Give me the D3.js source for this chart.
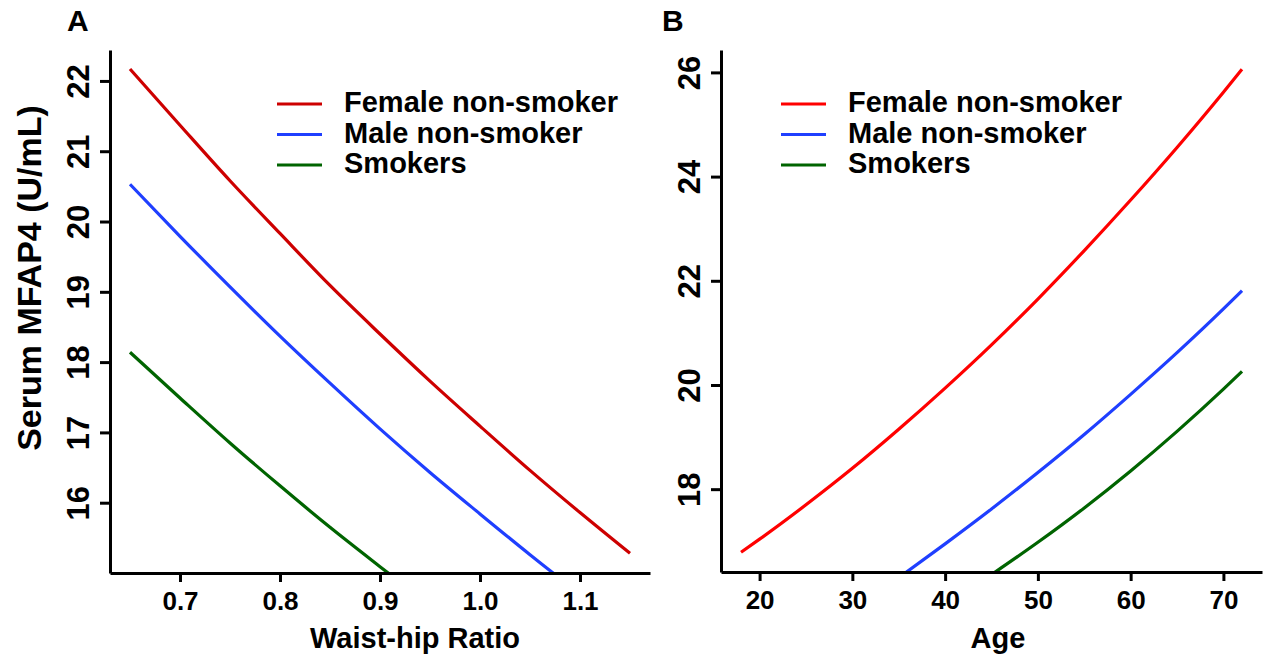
<!DOCTYPE html>
<html>
<head>
<meta charset="utf-8">
<script src="https://cdn.jsdelivr.net/npm/d3@7"></script>
<style>
  body { margin: 0; background: #fff; }
  svg { display: block; font-family: "Liberation Sans", Arial, Helvetica, sans-serif; font-weight: bold; }
</style>
</head>
<body>
<svg id="chart" width="1268" height="659"></svg>
<script>
// Panel A: waist-hip ratio
const whr = [0.65, 0.70, 0.75, 0.80, 0.85, 0.90, 0.95, 1.00, 1.05, 1.10, 1.15];
const femaleA = [22.17, 21.37, 20.58, 19.83, 19.09, 18.40, 17.73, 17.09, 16.46, 15.86, 15.28];
const maleA = [20.53, 19.79, 19.07, 18.37, 17.70, 17.05, 16.43, 15.84, 15.26, 14.70, null];
const smokersA = [18.14, 17.49, 16.85, 16.24, 15.65, 15.09, 14.54, null, null, null, null];

// Panel B: age
const age = [18, 20, 25, 30, 35, 40, 45, 50, 55, 60, 65, 70, 72];
const femaleB = [16.79, 17.04, 17.70, 18.40, 19.15, 19.94, 20.77, 21.65, 22.58, 23.55, 24.56, 25.62, 26.06];
const maleB = [null, null, null, null, 16.30, 16.95, 17.62, 18.32, 19.05, 19.82, 20.62, 21.46, 21.81];
const smokersB = [null, null, null, null, null, null, 16.36, 16.98, 17.64, 18.35, 19.11, 19.92, 20.26];

const seriesNames = ["Female non-smoker", "Male non-smoker", "Smokers"];
const xTicksA = [0.7, 0.8, 0.9, 1.0, 1.1];
const yTicksA = [16, 17, 18, 19, 20, 21, 22];
const xTicksB = [20, 30, 40, 50, 60, 70];
const yTicksB = [18, 20, 22, 24, 26];

const svg = d3.select("#chart");
svg.append("rect").attr("width", 1268).attr("height", 659).attr("fill", "#fff");

function drawPanel(cfg) {
  const x = d3.scaleLinear().domain(cfg.xDomain).range(cfg.xRange);
  const y = d3.scaleLinear().domain(cfg.yDomain).range(cfg.yRange);
  const g = svg.append("g");

  g.append("clipPath").attr("id", cfg.id + "-clip")
    .append("rect")
    .attr("x", cfg.xRange[0]).attr("y", cfg.yRange[1])
    .attr("width", cfg.xRange[1] - cfg.xRange[0])
    .attr("height", cfg.yRange[0] - cfg.yRange[1]);

  // curves
  const line = d3.line()
    .defined(d => d[1] != null)
    .x(d => x(d[0]))
    .y(d => y(d[1]))
    .curve(d3.curveMonotoneX);

  cfg.series.forEach((vals, i) => {
    g.append("path")
      .datum(cfg.xs.map((v, j) => [v, vals[j]]))
      .attr("clip-path", `url(#${cfg.id}-clip)`)
      .attr("fill", "none")
      .attr("stroke", cfg.colors[i])
      .attr("stroke-width", 3.2)
      .attr("d", line);
  });

  // x axis
  const xa = g.append("g")
    .attr("transform", `translate(0,${cfg.yRange[0]})`)
    .call(d3.axisBottom(x).tickValues(cfg.xTicks).tickFormat(cfg.xFormat)
      .tickSize(9).tickSizeOuter(0).tickPadding(10));
  xa.selectAll("text")
    .attr("font-size", "26px")
    .attr("font-family", "inherit")
    .attr("font-weight", "bold")
    .attr("fill", "#000");

  // y axis with rotated labels
  const ya = g.append("g")
    .attr("transform", `translate(${cfg.xRange[0]},0)`)
    .call(d3.axisLeft(y).tickValues(cfg.yTicks).tickSize(10).tickSizeOuter(0));
  ya.selectAll("text")
    .attr("transform", "rotate(-90)")
    .attr("x", 0)
    .attr("y", -21)
    .attr("dy", null)
    .attr("text-anchor", "middle")
    .attr("font-size", "31px")
    .attr("font-family", "inherit")
    .attr("font-weight", "bold")
    .attr("fill", "#000");

  g.selectAll(".domain, .tick line")
    .attr("stroke", "#000")
    .attr("stroke-width", 3);

  // legend
  const lg = g.append("g");
  seriesNames.forEach((name, i) => {
    const ly = cfg.legendY + i * 30.5;
    lg.append("line")
      .attr("x1", cfg.legendX).attr("x2", cfg.legendX + 45)
      .attr("y1", ly).attr("y2", ly)
      .attr("stroke", cfg.colors[i])
      .attr("stroke-width", 3.2);
    lg.append("text")
      .attr("x", cfg.legendX + 67)
      .attr("y", ly + 8)
      .attr("font-size", "29px")
      .attr("fill", "#000")
      .text(name);
  });

  // axis title
  g.append("text")
    .attr("x", cfg.xlabX)
    .attr("y", 648)
    .attr("text-anchor", "middle")
    .attr("font-size", "29px")
    .attr("fill", "#000")
    .text(cfg.xlab);

  // panel letter
  g.append("text")
    .attr("x", cfg.letterX)
    .attr("y", 31)
    .attr("font-size", "30px")
    .attr("fill", "#000")
    .text(cfg.letter);
}

drawPanel({
  id: "pa",
  xs: whr,
  series: [femaleA, maleA, smokersA],
  colors: ["#cd0000", "#1f3fff", "#006400"],
  xDomain: [0.63, 1.17], xRange: [110, 650],
  yDomain: [15.0, 22.44], yRange: [573, 50],
  xTicks: xTicksA, xFormat: d3.format(".1f"),
  yTicks: yTicksA,
  legendX: 277, legendY: 104,
  xlab: "Waist-hip Ratio", xlabX: 415,
  letter: "A", letterX: 67
});

drawPanel({
  id: "pb",
  xs: age,
  series: [femaleB, maleB, smokersB],
  colors: ["#ff0000", "#1f3fff", "#006400"],
  xDomain: [15.84, 74.16], xRange: [721, 1262],
  yDomain: [16.41, 26.43], yRange: [572, 50],
  xTicks: xTicksB, xFormat: d3.format("d"),
  yTicks: yTicksB,
  legendX: 781, legendY: 104,
  xlab: "Age", xlabX: 998,
  letter: "B", letterX: 662
});

// shared y title
svg.append("text")
  .attr("transform", "translate(41,278) rotate(-90)")
  .attr("text-anchor", "middle")
  .attr("font-size", "34px")
  .attr("fill", "#000")
  .text("Serum MFAP4 (U/mL)");
</script>
</body>
</html>
